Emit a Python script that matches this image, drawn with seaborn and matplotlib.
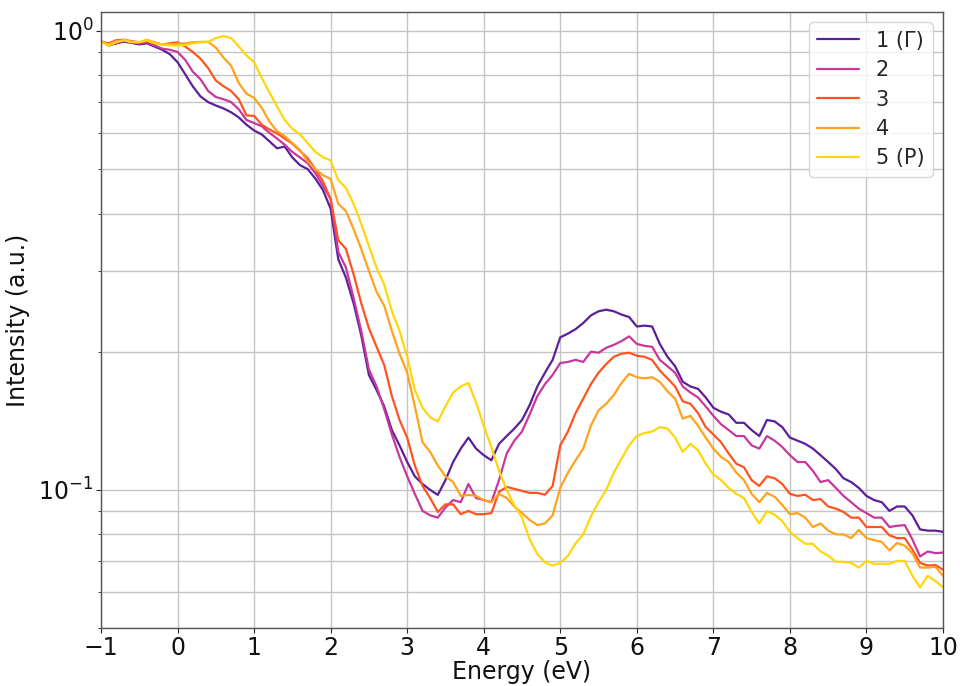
import numpy as np
import pandas as pd
import matplotlib
matplotlib.use("Agg")
import matplotlib.pyplot as plt
import seaborn as sns
from matplotlib.ticker import NullFormatter, MultipleLocator

energy = np.round(np.arange(-1.0, 10.001, 0.1), 1)

labels = ["1 (Γ)", "2", "3", "4", "5 (P)"]
colors = ["#5c1f9c", "#c8379c", "#ff5420", "#ffa21c", "#ffd60a"]

s1 = [0.95, 0.93, 0.94, 0.948, 0.942, 0.935, 0.94, 0.925, 0.91, 0.89,
      0.855, 0.805, 0.757, 0.72, 0.70, 0.688, 0.678, 0.665, 0.648, 0.625,
      0.607, 0.595, 0.575, 0.555, 0.56, 0.53, 0.51, 0.50, 0.477, 0.45,
      0.41, 0.318, 0.29, 0.255, 0.217, 0.178, 0.165, 0.152, 0.135, 0.125,
      0.115, 0.107, 0.103, 0.10, 0.0975, 0.105, 0.115, 0.123, 0.13, 0.123,
      0.119, 0.116, 0.126, 0.131, 0.136, 0.142, 0.153, 0.168, 0.18, 0.192,
      0.215, 0.219, 0.224, 0.231, 0.24, 0.245, 0.247, 0.245, 0.241, 0.238,
      0.227, 0.228, 0.227, 0.208, 0.195, 0.186, 0.172, 0.168, 0.166, 0.159,
      0.151, 0.148, 0.146, 0.14, 0.14, 0.135, 0.131, 0.142, 0.141, 0.137,
      0.13, 0.128, 0.126, 0.123, 0.119, 0.115, 0.111, 0.106, 0.104, 0.101,
      0.097, 0.095, 0.094, 0.09, 0.092, 0.092, 0.088, 0.082, 0.0815, 0.0815,
      0.081]

s2 = [0.95, 0.935, 0.94, 0.952, 0.945, 0.94, 0.945, 0.93, 0.915, 0.91,
      0.90, 0.865, 0.815, 0.785, 0.74, 0.718, 0.71, 0.70, 0.675, 0.64,
      0.63, 0.62, 0.60, 0.583, 0.565, 0.545, 0.53, 0.515, 0.49, 0.46,
      0.43, 0.33, 0.305, 0.262, 0.222, 0.183, 0.168, 0.15, 0.132, 0.118,
      0.107, 0.098, 0.09, 0.088, 0.087, 0.0915, 0.095, 0.094, 0.103, 0.096,
      0.095, 0.094, 0.105, 0.12, 0.128, 0.134, 0.146, 0.16, 0.17, 0.178,
      0.189, 0.19, 0.192, 0.19, 0.20, 0.199, 0.204, 0.207, 0.211, 0.216,
      0.208, 0.206, 0.205, 0.192, 0.186, 0.18, 0.168, 0.163, 0.159, 0.152,
      0.145, 0.139, 0.135, 0.131, 0.131, 0.125, 0.123, 0.131, 0.128, 0.124,
      0.119, 0.115, 0.115, 0.11, 0.104, 0.105, 0.101, 0.097, 0.094, 0.091,
      0.089, 0.087, 0.087, 0.083, 0.0835, 0.0838, 0.078, 0.0716, 0.0734, 0.0728,
      0.073]

s3 = [0.947, 0.94, 0.955, 0.957, 0.95, 0.945, 0.95, 0.94, 0.935, 0.94,
      0.945, 0.925, 0.90, 0.87, 0.83, 0.78, 0.758, 0.74, 0.71, 0.655,
      0.653, 0.625, 0.61, 0.598, 0.583, 0.568, 0.548, 0.528, 0.50, 0.47,
      0.43, 0.35, 0.335, 0.295, 0.255, 0.225, 0.205, 0.187, 0.16, 0.142,
      0.13, 0.113, 0.102, 0.096, 0.0895, 0.093, 0.093, 0.0885, 0.09, 0.0885,
      0.0885, 0.089, 0.099, 0.1015, 0.1005, 0.0995, 0.0985, 0.0985, 0.0976, 0.102,
      0.125, 0.134, 0.147, 0.158, 0.17, 0.18, 0.188, 0.195, 0.198, 0.199,
      0.196, 0.195, 0.192, 0.182, 0.175, 0.168, 0.156, 0.154, 0.147, 0.137,
      0.132, 0.127, 0.12, 0.114, 0.112, 0.105, 0.102, 0.107, 0.106, 0.103,
      0.098, 0.097, 0.0976, 0.095, 0.0955, 0.092, 0.091, 0.0895, 0.087, 0.087,
      0.083, 0.083, 0.083, 0.0796, 0.0785, 0.0785, 0.0741, 0.0693, 0.0684, 0.0686,
      0.067]

s4 = [0.945, 0.935, 0.95, 0.955, 0.948, 0.945, 0.957, 0.945, 0.935, 0.935,
      0.938, 0.94, 0.945, 0.947, 0.947, 0.92, 0.875, 0.84, 0.77, 0.73,
      0.715, 0.68, 0.635, 0.605, 0.59, 0.57, 0.55, 0.52, 0.50, 0.485,
      0.476, 0.42, 0.405, 0.37, 0.335, 0.30, 0.27, 0.252, 0.222, 0.198,
      0.18, 0.152, 0.127, 0.121, 0.113, 0.107, 0.104, 0.097, 0.0975, 0.097,
      0.095, 0.094, 0.098, 0.096, 0.092, 0.089, 0.086, 0.0838, 0.0845, 0.088,
      0.101, 0.109, 0.116, 0.123, 0.138, 0.149, 0.154, 0.161, 0.171, 0.179,
      0.176, 0.175, 0.176, 0.172, 0.164, 0.158, 0.143, 0.145, 0.138, 0.13,
      0.123, 0.118, 0.115, 0.109, 0.105, 0.098, 0.094, 0.0985, 0.0966, 0.0927,
      0.0885, 0.089, 0.087, 0.083, 0.0845, 0.0815, 0.08, 0.08, 0.0785, 0.0818,
      0.0785, 0.0777, 0.077, 0.0738, 0.0766, 0.0756, 0.0727, 0.0677, 0.0677, 0.068,
      0.065]

s5 = [0.947, 0.93, 0.945, 0.955, 0.945, 0.945, 0.955, 0.94, 0.935, 0.93,
      0.93, 0.932, 0.94, 0.945, 0.947, 0.965, 0.975, 0.965, 0.925, 0.885,
      0.855, 0.79, 0.735, 0.685, 0.64, 0.612, 0.595, 0.57, 0.545, 0.531,
      0.522, 0.473, 0.455, 0.42, 0.38, 0.34, 0.305, 0.28, 0.245, 0.222,
      0.195, 0.165, 0.151, 0.144, 0.141, 0.152, 0.163, 0.168, 0.171, 0.155,
      0.138, 0.124, 0.11, 0.10, 0.0925, 0.087, 0.078, 0.0725, 0.0695, 0.0684,
      0.0693, 0.0718, 0.0765, 0.08, 0.0875, 0.094, 0.10, 0.109, 0.117, 0.125,
      0.131, 0.133, 0.134, 0.137, 0.136, 0.13, 0.121, 0.126, 0.122, 0.114,
      0.108, 0.105, 0.101, 0.098, 0.096, 0.0895, 0.0845, 0.0899, 0.0883, 0.0855,
      0.081, 0.0785, 0.0763, 0.0763, 0.0734, 0.0719, 0.0697, 0.0697, 0.0693, 0.0677,
      0.07, 0.069, 0.069, 0.069, 0.07, 0.07, 0.065, 0.0613, 0.065, 0.0633,
      0.0613]

series = [s1, s2, s3, s4, s5]
frames = []
for lab, vals in zip(labels, series):
    frames.append(pd.DataFrame({"Energy": energy, "Intensity": vals, "k": lab}))
df = pd.concat(frames, ignore_index=True)

sns.set_style("ticks")
plt.rcParams['font.family'] = ['DejaVu Sans']

fig = plt.figure(figsize=(9.6, 6.86), dpi=100)
ax = fig.add_axes([101/960, 1-628/686, (943-101)/960, (628-12)/686])

sns.lineplot(data=df, x="Energy", y="Intensity", hue="k", palette=colors,
             hue_order=labels, linewidth=1.6, ax=ax, estimator=None, sort=False)

ax.set_yscale("log")
ax.set_xlim(-1, 10)
ax.set_ylim(0.05, 1.1)
ax.xaxis.set_major_locator(MultipleLocator(1))
ax.yaxis.set_minor_formatter(NullFormatter())
ax.grid(True, which="major", color="#c4c4c4", linewidth=1.0)
ax.grid(True, which="minor", axis="y", color="#c4c4c4", linewidth=1.0)
ax.set_axisbelow(True)
ax.tick_params(axis="both", which="major", labelsize=17, pad=2, length=3.5,
               labelcolor="#111111")
ax.tick_params(axis="both", which="minor", length=2.5)
ax.set_xlabel("Energy (eV)", fontsize=17, labelpad=0, color="#111111")
ax.set_ylabel("Intensity (a.u.)", fontsize=17, labelpad=6, color="#111111")
for sp in ["top", "right", "left", "bottom"]:
    ax.spines[sp].set_visible(True)
    ax.spines[sp].set_color("#555555")
    ax.spines[sp].set_linewidth(1.0)

leg = ax.legend(loc="upper right", fontsize=15, frameon=True, labelspacing=0.45)
leg.set_title(None)

fig.savefig("out.png", dpi=100)
